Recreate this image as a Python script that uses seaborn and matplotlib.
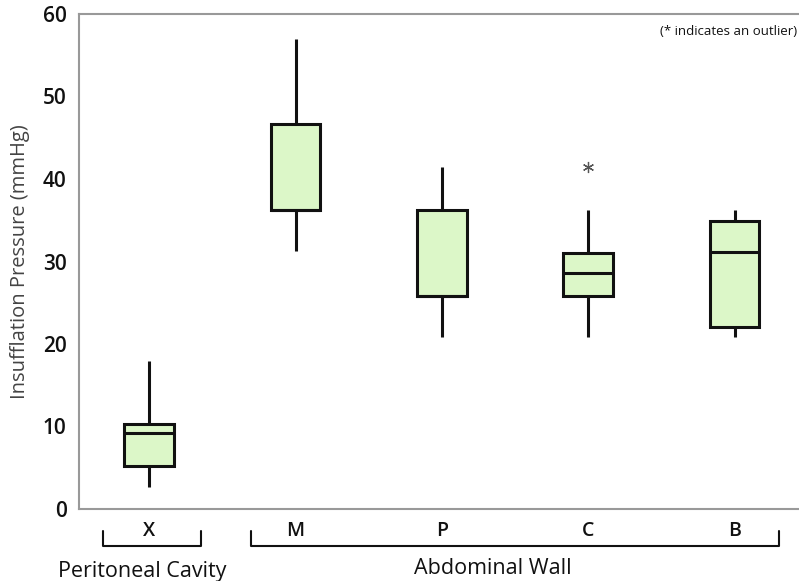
import seaborn as sns
import pandas as pd
import matplotlib.pyplot as plt

# five points per group give the whiskers / quartiles / median
sites = ["X", "M", "P", "C", "B"]
x_vals = [2.7, 5.2, 9.2, 10.3, 17.9]
m_vals = [31.3, 36.2, 36.2, 46.7, 57.0]
p_vals = [20.8, 25.8, 25.8, 36.2, 41.5]
c_vals = [20.8, 25.8, 25.8, 28.6, 28.6, 31.0, 31.0, 36.2, 41.5]  # 41.5 is the outlier
b_vals = [20.8, 22.1, 31.2, 34.9, 36.2]

groups = [x_vals, m_vals, p_vals, c_vals, b_vals]
df = pd.DataFrame({
    "Site": [s for s, g in zip(sites, groups) for _ in g],
    "Pressure": [v for g in groups for v in g],
})

sns.set_style("white")
plt.rcParams["font.family"] = ["Open Sans", "DejaVu Sans"]

fig = plt.figure(figsize=(7.99, 5.81), dpi=100)
ax = fig.add_axes([79 / 799, 1 - 509 / 581, 720 / 799, 495 / 581])

sns.boxplot(data=df, x="Site", y="Pressure", order=sites, ax=ax, width=0.34,
            color="#dcf7c8", linewidth=2.2, linecolor="#111111", saturation=1,
            whis=1.5,
            boxprops=dict(edgecolor="#111111"),
            flierprops=dict(marker=(6, 2, 0), markersize=8, markeredgecolor="#555555",
                            markeredgewidth=0.9),
            capprops=dict(linewidth=0))

ax.set_ylim(0, 60)
ax.set_xlim(-0.48, 4.44)
ax.set_yticks(range(0, 61, 10))
ax.set_xlabel("")
ax.set_ylabel("Insufflation Pressure (mmHg)", fontsize=14.5, color="#444444", labelpad=9)
ax.tick_params(axis="y", labelsize=15, length=5, width=1, color="#999999", pad=4)
ax.tick_params(axis="x", labelsize=14, length=4, width=1, color="#999999", pad=5)
for lab in ax.get_yticklabels() + ax.get_xticklabels():
    lab.set_fontweight("semibold")
    lab.set_color("#111111")

for side in ["left", "top", "bottom"]:
    ax.spines[side].set_color("#999999")
    ax.spines[side].set_linewidth(1.5)
ax.spines["right"].set_visible(False)

ax.text(0.998, 0.965, "(* indicates an outlier)", transform=ax.transAxes,
        ha="right", va="center", fontsize=9.5, color="#111111")

# group brackets below the axis
trans = ax.get_xaxis_transform()
for x0, x1, label, lx, ly in [(-0.315, 0.355, "Peritoneal Cavity", -0.05, -0.127),
                              (0.695, 4.3, "Abdominal Wall", 2.35, -0.12)]:
    ax.plot([x0, x0, x1, x1], [-0.045, -0.075, -0.075, -0.045], transform=trans,
            color="#111111", lw=1.5, clip_on=False)
    ax.text(lx, ly, label, transform=trans, ha="center", va="center",
            fontsize=15.5, color="#111111")

plt.savefig("out.png", dpi=100)
